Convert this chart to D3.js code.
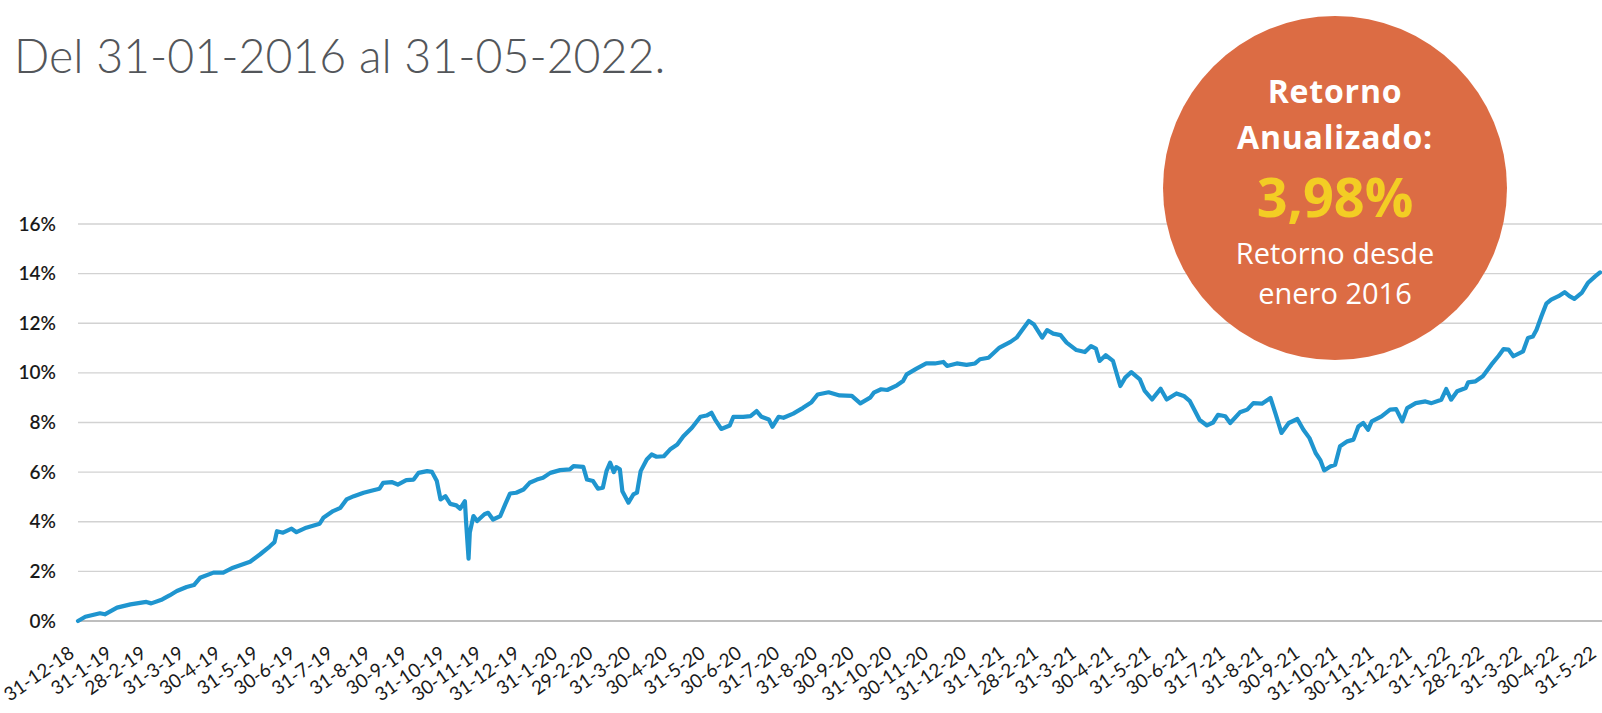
<!DOCTYPE html>
<html>
<head>
<meta charset="utf-8">
<script src="https://cdn.jsdelivr.net/npm/d3@7"></script>
<style>
  body { margin: 0; background: #fff; }
  svg { display: block; }
</style>
</head>
<body>
<script>
//chart data (cumulative return in %)
var dates = [
    "2018-12-31", "2019-01-06", "2019-01-18", "2019-01-22", "2019-02-01", "2019-02-12", "2019-02-25", "2019-03-01",
    "2019-03-10", "2019-03-16", "2019-03-22", "2019-03-30", "2019-04-05", "2019-04-10", "2019-04-21", "2019-04-29",
    "2019-05-07", "2019-05-21", "2019-05-29", "2019-06-06", "2019-06-10", "2019-06-12", "2019-06-17", "2019-06-24",
    "2019-06-28", "2019-07-06", "2019-07-17", "2019-07-20", "2019-07-28", "2019-08-03", "2019-08-08", "2019-08-14",
    "2019-08-22", "2019-08-30", "2019-09-04", "2019-09-07", "2019-09-14", "2019-09-19", "2019-09-26", "2019-10-02",
    "2019-10-06", "2019-10-13", "2019-10-17", "2019-10-21", "2019-10-24", "2019-10-28", "2019-11-01", "2019-11-06",
    "2019-11-09", "2019-11-13", "2019-11-14", "2019-11-16", "2019-11-17", "2019-11-20", "2019-11-23", "2019-11-29",
    "2019-12-02", "2019-12-06", "2019-12-12", "2019-12-16", "2019-12-20", "2019-12-25", "2019-12-31", "2020-01-05",
    "2020-01-11", "2020-01-16", "2020-01-22", "2020-01-30", "2020-02-07", "2020-02-10", "2020-02-18", "2020-02-21",
    "2020-02-26", "2020-03-01", "2020-03-05", "2020-03-08", "2020-03-11", "2020-03-14", "2020-03-16", "2020-03-19",
    "2020-03-21", "2020-03-26", "2020-03-30", "2020-04-02", "2020-04-05", "2020-04-10", "2020-04-14", "2020-04-18",
    "2020-04-24", "2020-04-29", "2020-05-05", "2020-05-10", "2020-05-17", "2020-05-24", "2020-05-29", "2020-06-02",
    "2020-06-05", "2020-06-10", "2020-06-17", "2020-06-20", "2020-06-28", "2020-07-04", "2020-07-09", "2020-07-13",
    "2020-07-19", "2020-07-22", "2020-07-27", "2020-07-31", "2020-08-08", "2020-08-16", "2020-08-23", "2020-08-28",
    "2020-09-06", "2020-09-15", "2020-09-25", "2020-10-02", "2020-10-10", "2020-10-13", "2020-10-19", "2020-10-24",
    "2020-11-01", "2020-11-06", "2020-11-09", "2020-11-17", "2020-11-25", "2020-12-02", "2020-12-09", "2020-12-12",
    "2020-12-20", "2020-12-28", "2021-01-04", "2021-01-08", "2021-01-15", "2021-01-19", "2021-01-24", "2021-02-02",
    "2021-02-07", "2021-02-11", "2021-02-17", "2021-02-21", "2021-02-28", "2021-03-04", "2021-03-09", "2021-03-15",
    "2021-03-20", "2021-03-28", "2021-04-04", "2021-04-09", "2021-04-13", "2021-04-16", "2021-04-21", "2021-04-27",
    "2021-05-03", "2021-05-07", "2021-05-12", "2021-05-19", "2021-05-23", "2021-05-29", "2021-06-05", "2021-06-10",
    "2021-06-18", "2021-06-24", "2021-06-29", "2021-07-07", "2021-07-13", "2021-07-18", "2021-07-22", "2021-07-28",
    "2021-08-01", "2021-08-09", "2021-08-15", "2021-08-20", "2021-08-27", "2021-09-03", "2021-09-07", "2021-09-12",
    "2021-09-18", "2021-09-25", "2021-09-30", "2021-10-05", "2021-10-10", "2021-10-14", "2021-10-17", "2021-10-22",
    "2021-10-26", "2021-10-30", "2021-11-05", "2021-11-10", "2021-11-14", "2021-11-18", "2021-11-22", "2021-11-25",
    "2021-12-03", "2021-12-10", "2021-12-15", "2021-12-20", "2021-12-24", "2021-12-31", "2022-01-08", "2022-01-13",
    "2022-01-21", "2022-01-25", "2022-01-29", "2022-02-03", "2022-02-10", "2022-02-12", "2022-02-18", "2022-02-24",
    "2022-03-03", "2022-03-09", "2022-03-13", "2022-03-17", "2022-03-21", "2022-03-29", "2022-04-02", "2022-04-06",
    "2022-04-09", "2022-04-13", "2022-04-17", "2022-04-21", "2022-04-27", "2022-05-02", "2022-05-06", "2022-05-10",
    "2022-05-16", "2022-05-21", "2022-05-27", "2022-05-31"
];

var returns = [
    0.00, 0.17, 0.31, 0.27, 0.54, 0.67, 0.77, 0.71,
    0.87, 1.03, 1.21, 1.37, 1.45, 1.74, 1.95, 1.95,
    2.15, 2.39, 2.68, 3.00, 3.18, 3.62, 3.56, 3.72,
    3.58, 3.76, 3.92, 4.16, 4.43, 4.56, 4.90, 5.03,
    5.17, 5.27, 5.33, 5.57, 5.60, 5.50, 5.68, 5.70,
    5.97, 6.04, 6.01, 5.64, 4.90, 5.03, 4.72, 4.66,
    4.52, 4.83, 3.96, 2.51, 3.56, 4.23, 4.03, 4.30,
    4.36, 4.09, 4.23, 4.70, 5.14, 5.17, 5.30, 5.57,
    5.70, 5.77, 5.97, 6.08, 6.11, 6.24, 6.21, 5.70,
    5.64, 5.33, 5.37, 6.04, 6.38, 6.00, 6.20, 6.11,
    5.23, 4.77, 5.10, 5.17, 6.04, 6.51, 6.71, 6.62,
    6.64, 6.91, 7.11, 7.45, 7.79, 8.23, 8.28, 8.39,
    8.12, 7.74, 7.88, 8.23, 8.23, 8.26, 8.46, 8.23,
    8.12, 7.83, 8.23, 8.19, 8.36, 8.59, 8.82, 9.13,
    9.22, 9.09, 9.07, 8.77, 9.00, 9.20, 9.34, 9.31,
    9.50, 9.67, 9.94, 10.17, 10.38, 10.38, 10.44, 10.28,
    10.38, 10.32, 10.38, 10.55, 10.61, 10.79, 11.02, 11.25,
    11.42, 11.69, 12.09, 11.96, 11.42, 11.72, 11.58, 11.52,
    11.22, 10.92, 10.84, 11.08, 10.98, 10.48, 10.71, 10.48,
    9.47, 9.81, 10.03, 9.74, 9.27, 8.93, 9.36, 8.93,
    9.17, 9.07, 8.86, 8.10, 7.88, 8.00, 8.31, 8.25,
    7.98, 8.41, 8.52, 8.78, 8.76, 8.99, 8.38, 7.58,
    7.98, 8.14, 7.71, 7.37, 6.77, 6.47, 6.07, 6.23,
    6.30, 7.04, 7.24, 7.31, 7.84, 7.98, 7.71, 8.05,
    8.25, 8.52, 8.54, 8.05, 8.58, 8.78, 8.85, 8.78,
    8.92, 9.35, 8.92, 9.26, 9.39, 9.62, 9.66, 9.86,
    10.33, 10.69, 10.96, 10.94, 10.67, 10.87, 11.41, 11.47,
    11.74, 12.28, 12.79, 12.95, 13.09, 13.25, 13.09, 12.98,
    13.22, 13.62, 13.89, 14.05
];

//month-end tick labels on the x axis
var tickLabels = [
    "31-12-18", "31-1-19", "28-2-19", "31-3-19", "30-4-19", "31-5-19", "30-6-19", "31-7-19", "31-8-19",
    "30-9-19", "31-10-19", "30-11-19", "31-12-19", "31-1-20", "29-2-20", "31-3-20", "30-4-20", "31-5-20",
    "30-6-20", "31-7-20", "31-8-20", "30-9-20", "31-10-20", "30-11-20", "31-12-20", "31-1-21", "28-2-21",
    "31-3-21", "30-4-21", "31-5-21", "30-6-21", "31-7-21", "31-8-21", "30-9-21", "31-10-21", "30-11-21",
    "31-12-21", "31-1-22", "28-2-22", "31-3-22", "30-4-22", "31-5-22"
];

var yTicks = [0, 2, 4, 6, 8, 10, 12, 14, 16];

var titleText = "Del 31-01-2016 al 31-05-2022.";
var badgeTitle = ["Retorno", "Anualizado:"];
var badgeValue = "3,98%";
var badgeNote = ["Retorno desde", "enero 2016"];

//set up the svg dimensions
var width = 1602,
    height = 713;
var plot = { left: 78, right: 1600, top: 224, bottom: 621 };

var svg = d3.select("body").append("svg")
    .attr("width", width)
    .attr("height", height);

var parseDay = d3.timeParse("%Y-%m-%d");
var parseTick = d3.timeParse("%d-%m-%y");

var data = dates.map(function(d, i) {
    return { date: parseDay(d), value: returns[i] };
});
var tickDates = tickLabels.map(function(t) { return parseTick(t); });

//scales
var xScale = d3.scaleTime()
    .domain([tickDates[0], tickDates[tickDates.length - 1]])
    .range([plot.left, plot.right]);

var yScale = d3.scaleLinear()
    .domain([0, 16])
    .range([plot.bottom, plot.top]);

//title
svg.append("text")
    .attr("x", 14)
    .attr("y", 73)
    .attr("font-family", "Lato, 'Open Sans', sans-serif")
    .attr("font-weight", 300)
    .attr("font-size", 46.5)
    .attr("fill", "#53565a")
    .text(titleText);

//horizontal gridlines
svg.append("g")
    .selectAll("line")
    .data(yTicks)
    .enter().append("line")
    .attr("x1", plot.left)
    .attr("x2", width)
    .attr("y1", function(d) { return yScale(d); })
    .attr("y2", function(d) { return yScale(d); })
    .attr("stroke", function(d) { return d === 0 ? "#a9a9a9" : "#d2d2d2"; })
    .attr("stroke-width", 1.4);

//y axis labels
var yAxis = svg.append("g")
    .attr("transform", "translate(" + plot.left + ",0)")
    .call(d3.axisLeft(yScale)
        .tickValues(yTicks)
        .tickFormat(function(d) { return d + "%"; })
        .tickSize(0)
        .tickPadding(22));
yAxis.select(".domain").remove();
yAxis.selectAll("text")
    .attr("font-family", "Lato, 'Open Sans', sans-serif")
    .attr("font-size", 19)
    .attr("font-weight", 600)
    .attr("fill", "#1a1a1a");

//x axis labels, rotated
var xAxis = svg.append("g")
    .attr("transform", "translate(0," + plot.bottom + ")")
    .call(d3.axisBottom(xScale)
        .tickValues(tickDates)
        .tickFormat(function(d, i) { return tickLabels[i]; })
        .tickSize(0));
xAxis.select(".domain").remove();
xAxis.selectAll("text")
    .attr("x", 0)
    .attr("y", 0)
    .attr("dy", 0)
    .attr("text-anchor", "end")
    .attr("transform", "translate(-3,35) rotate(-35)")
    .attr("font-family", "Lato, 'Open Sans', sans-serif")
    .attr("font-size", 19)
    .attr("fill", "#1a1a1a");

//the return line
var line = d3.line()
    .x(function(d) { return xScale(d.date); })
    .y(function(d) { return yScale(d.value); });

svg.append("path")
    .datum(data)
    .attr("fill", "none")
    .attr("stroke", "#1f95cf")
    .attr("stroke-width", 4.2)
    .attr("stroke-linejoin", "round")
    .attr("stroke-linecap", "round")
    .attr("d", line);

//orange badge with the annualized return
var badge = svg.append("g")
    .attr("transform", "translate(1335,188)");

badge.append("circle")
    .attr("r", 172)
    .attr("fill", "#dc6c44");

badge.selectAll("text.head")
    .data(badgeTitle)
    .enter().append("text")
    .attr("class", "head")
    .attr("text-anchor", "middle")
    .attr("y", function(d, i) { return -85 + i * 45.5; })
    .attr("font-family", "'Open Sans', Lato, sans-serif")
    .attr("font-weight", 700)
    .attr("font-size", 32)
    .attr("letter-spacing", 0.8)
    .attr("fill", "#ffffff")
    .text(function(d) { return d; });

badge.append("text")
    .attr("text-anchor", "middle")
    .attr("y", 29)
    .attr("font-family", "'Open Sans', Lato, sans-serif")
    .attr("font-weight", 700)
    .attr("font-size", 54)
    .attr("fill", "#f3cd24")
    .text(badgeValue);

badge.selectAll("text.note")
    .data(badgeNote)
    .enter().append("text")
    .attr("class", "note")
    .attr("text-anchor", "middle")
    .attr("y", function(d, i) { return 76 + i * 40; })
    .attr("font-family", "'Open Sans', Lato, sans-serif")
    .attr("font-weight", 400)
    .attr("font-size", 29)
    .attr("fill", "#ffffff")
    .text(function(d) { return d; });
</script>
</body>
</html>
